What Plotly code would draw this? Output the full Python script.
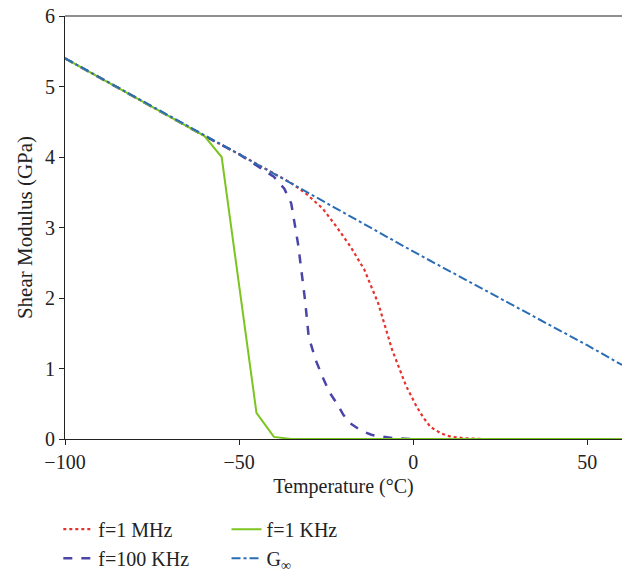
import plotly.graph_objects as go

# Temperatures (°C) and shear modulus (GPa)
t_ginf = [-100, -50, 0, 50, 60]
g_ginf = [5.40, 4.04, 2.66, 1.33, 1.05]

t_1khz = [-100, -60, -55, -45, -40, -35, 0, 60]
g_1khz = [5.40, 4.30, 4.00, 0.37, 0.03, 0.0, 0.0, 0.0]

t_100khz = [-100, -60, -50, -40, -37, -35, -33, -31, -30, -28, -26, -24, -22, -20, -18, -15, -12, -10, -5, 0]
g_100khz = [5.40, 4.30, 4.04, 3.72, 3.55, 3.34, 2.75, 1.95, 1.45, 1.12, 0.88, 0.66, 0.51, 0.34, 0.22, 0.12, 0.06, 0.04, 0.01, 0.0]

t_1mhz = [-100, -60, -50, -40, -35, -31, -26, -22, -18, -14, -10, -6, -2, 1, 3, 5, 8, 11, 15, 20, 30, 60]
g_1mhz = [5.40, 4.30, 4.04, 3.77, 3.63, 3.49, 3.27, 3.01, 2.73, 2.40, 1.92, 1.26, 0.75, 0.46, 0.30, 0.17, 0.08, 0.03, 0.01, 0.0, 0.0, 0.0]

FONT = "Liberation Serif"
FS = 20

fig = go.Figure()
fig.add_trace(go.Scatter(x=t_1mhz, y=g_1mhz, mode="lines", name="f=1 MHz",
                         line=dict(color="#e8312a", width=2.2, dash="dot"), legend="legend"))
fig.add_trace(go.Scatter(x=t_100khz, y=g_100khz, mode="lines", name="f=100 KHz",
                         line=dict(color="#4a46a8", width=2.5, dash="dash"), legend="legend"))
fig.add_trace(go.Scatter(x=t_1khz, y=g_1khz, mode="lines", name="f=1 KHz",
                         line=dict(color="#7cc520", width=2, dash="solid"), legend="legend2"))
fig.add_trace(go.Scatter(x=t_ginf, y=g_ginf, mode="lines", name="G<sub>∞</sub>",
                         line=dict(color="#2a6db5", width=2, dash="dashdot"), legend="legend2"))

fig.update_layout(
    width=622, height=574,
    margin=dict(l=65, r=0, t=16, b=135, autoexpand=False),
    paper_bgcolor="white", plot_bgcolor="white",
    font=dict(family=FONT, size=FS, color="#222"),
    xaxis=dict(range=[-100, 60], tickvals=[-100, -50, 0, 50], ticktext=["−100", "−50", "0", "50"],
               showgrid=False, zeroline=False, showline=True, linecolor="#222", linewidth=1.2,
               mirror=False, ticks="outside", ticklen=5, tickcolor="#222",
               title=dict(text="Temperature (°C)", font=dict(size=FS), standoff=6)),
    yaxis=dict(range=[0, 6], tickvals=[0, 1, 2, 3, 4, 5, 6], showgrid=False, zeroline=False,
               showline=True, linecolor="#222", linewidth=1.2, ticks="outside", ticklen=5,
               tickcolor="#222",
               title=dict(text="Shear Modulus (GPa)", font=dict(size=21), standoff=6)),
    legend=dict(x=-0.012, y=-0.167, xanchor="left", yanchor="top", orientation="v",
                font=dict(size=FS), tracegroupgap=0, bgcolor="rgba(0,0,0,0)"),
    legend2=dict(x=0.29, y=-0.167, xanchor="left", yanchor="top", orientation="v",
                 font=dict(size=FS), tracegroupgap=0, bgcolor="rgba(0,0,0,0)"),
    shapes=[dict(type="line", xref="paper", yref="paper", x0=0, x1=1, y0=1, y1=1,
                 line=dict(color="#222", width=1.2))],
)

fig.write_html("out.html")
